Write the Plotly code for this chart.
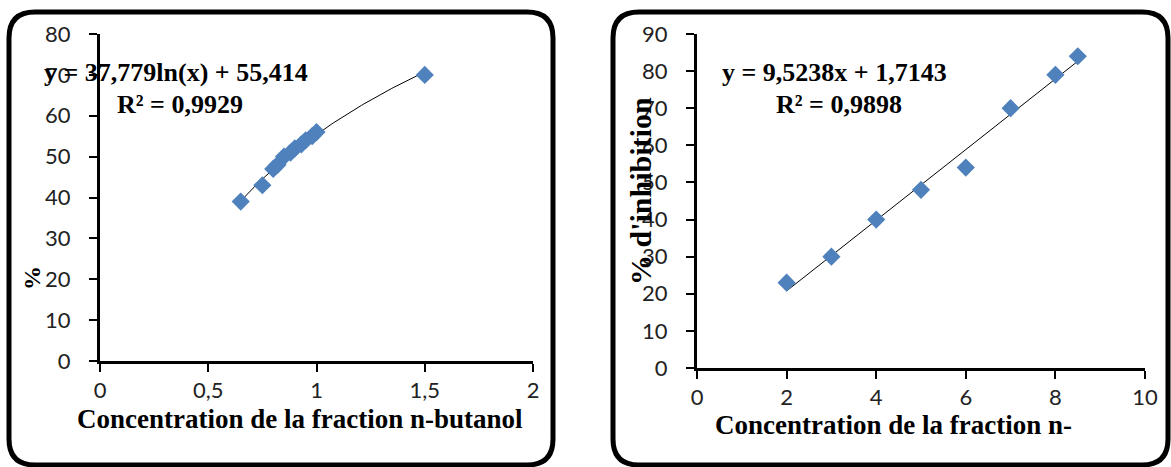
import numpy as np
import plotly.graph_objects as go

W, H = 1171, 467

# n-butanol fraction: concentration vs % inhibition
butanol_conc = [0.65, 0.75, 0.80, 0.82, 0.85, 0.88, 0.90, 0.93, 0.95, 0.98, 1.00, 1.50]
butanol_inhib = [39, 43, 47, 48, 50, 51, 52, 53, 54, 55, 56, 70]
log_a, log_b = 37.779, 55.414          # y = a ln(x) + b
log_r2 = "0,9929"

# second fraction: concentration vs % inhibition
frac_conc = [2, 3, 4, 5, 6, 7, 8, 8.5]
frac_inhib = [23, 30, 40, 48, 54, 70, 79, 84]
lin_a, lin_b = 9.5238, 1.7143          # y = a x + b
lin_r2 = "0,9898"

left_xticks = [0, 0.5, 1, 1.5, 2]
left_xtick_text = ["0", "0,5", "1", "1,5", "2"]
left_yticks = list(range(0, 81, 10))
right_xticks = list(range(0, 11, 2))
right_yticks = list(range(0, 91, 10))

BLUE = "#4F81BD"
TICK_FONT = dict(family="Lato, Open Sans, sans-serif", size=22, color="#222222")
SERIF_B = "Liberation Serif, Times New Roman, serif"


def px(x):
    return x / W


def py(y):
    return 1 - y / H


def rounded_box(x0, y0, x1, y1, r):
    """Rounded rectangle path in paper coordinates from pixel bounds."""
    pts = [
        f"M {px(x0 + r)} {py(y0)}",
        f"L {px(x1 - r)} {py(y0)}",
        f"Q {px(x1)} {py(y0)} {px(x1)} {py(y0 + r)}",
        f"L {px(x1)} {py(y1 - r)}",
        f"Q {px(x1)} {py(y1)} {px(x1 - r)} {py(y1)}",
        f"L {px(x0 + r)} {py(y1)}",
        f"Q {px(x0)} {py(y1)} {px(x0)} {py(y1 - r)}",
        f"L {px(x0)} {py(y0 + r)}",
        f"Q {px(x0)} {py(y0)} {px(x0 + r)} {py(y0)}",
        "Z",
    ]
    return " ".join(pts)


fig = go.Figure()

# left panel: trend line then points
xl = np.linspace(min(butanol_conc), max(butanol_conc), 100)
fig.add_trace(go.Scatter(x=xl, y=log_a * np.log(xl) + log_b, mode="lines",
                         line=dict(color="black", width=1), xaxis="x", yaxis="y",
                         hoverinfo="skip"))
fig.add_trace(go.Scatter(x=butanol_conc, y=butanol_inhib, mode="markers",
                         marker=dict(symbol="diamond", size=14, color=BLUE),
                         xaxis="x", yaxis="y"))

# right panel
xr = np.array([min(frac_conc), max(frac_conc)])
fig.add_trace(go.Scatter(x=xr, y=lin_a * xr + lin_b, mode="lines",
                         line=dict(color="black", width=1), xaxis="x2", yaxis="y2",
                         hoverinfo="skip"))
fig.add_trace(go.Scatter(x=frac_conc, y=frac_inhib, mode="markers",
                         marker=dict(symbol="diamond", size=14, color=BLUE),
                         xaxis="x2", yaxis="y2"))

axis_common = dict(showline=True, linecolor="black", linewidth=3, ticks="outside",
                   ticklen=8, tickwidth=2, tickcolor="black", showgrid=False,
                   zeroline=False, tickfont=TICK_FONT, automargin=False)

fig.update_layout(
    width=W, height=H,
    margin=dict(l=0, r=0, t=0, b=0, autoexpand=False),
    paper_bgcolor="white", plot_bgcolor="white",
    showlegend=False,
    xaxis=dict(domain=[px(100), px(533)], range=[0, 2], tickvals=left_xticks,
               ticktext=left_xtick_text, anchor="y", ticklabelstandoff=0, **axis_common),
    yaxis=dict(domain=[py(361), py(34)], range=[0, 80], tickvals=left_yticks,
               anchor="x", ticklabelstandoff=14, **axis_common),
    xaxis2=dict(domain=[px(697), px(1145)], range=[0, 10], tickvals=right_xticks,
                anchor="y2", ticklabelstandoff=0, **axis_common),
    yaxis2=dict(domain=[py(368), py(34)], range=[0, 90], tickvals=right_yticks,
                anchor="x2", ticklabelstandoff=14, **axis_common),
)

fig.add_shape(type="path", path=rounded_box(9, 12, 553, 465, 26), xref="paper", yref="paper",
              line=dict(color="black", width=5), layer="above")
fig.add_shape(type="path", path=rounded_box(613, 12, 1168, 465, 26), xref="paper", yref="paper",
              line=dict(color="black", width=5), layer="above")


def label(text, x, y, size, angle=0, xanchor="center"):
    fig.add_annotation(text=text, x=px(x), y=py(y), xref="paper", yref="paper",
                       showarrow=False, textangle=angle, xanchor=xanchor, yanchor="middle",
                       font=dict(family=SERIF_B, size=size, color="black"))


# axis titles
label("<b>Concentration de la fraction n-butanol</b>", 300, 419, 27)
label("<b>%</b>", 32, 278, 24, angle=-90)
label("<b>Concentration de la fraction n-</b>", 893, 425, 27)
label("<b>% d'inhibition</b>", 640, 191, 30, angle=-90)

# trend line equations
label(f"<b>y = {str(log_a).replace('.', ',')}ln(x) + {str(log_b).replace('.', ',')}</b>",
      42, 73, 26, xanchor="left")
label(f"<b>R² = {log_r2}</b>", 115, 104, 26, xanchor="left")
label(f"<b>y = {str(lin_a).replace('.', ',')}x + {str(lin_b).replace('.', ',')}</b>",
      720, 73, 26, xanchor="left")
label(f"<b>R² = {lin_r2}</b>", 774, 104, 26, xanchor="left")

fig.write_html("out.html")
